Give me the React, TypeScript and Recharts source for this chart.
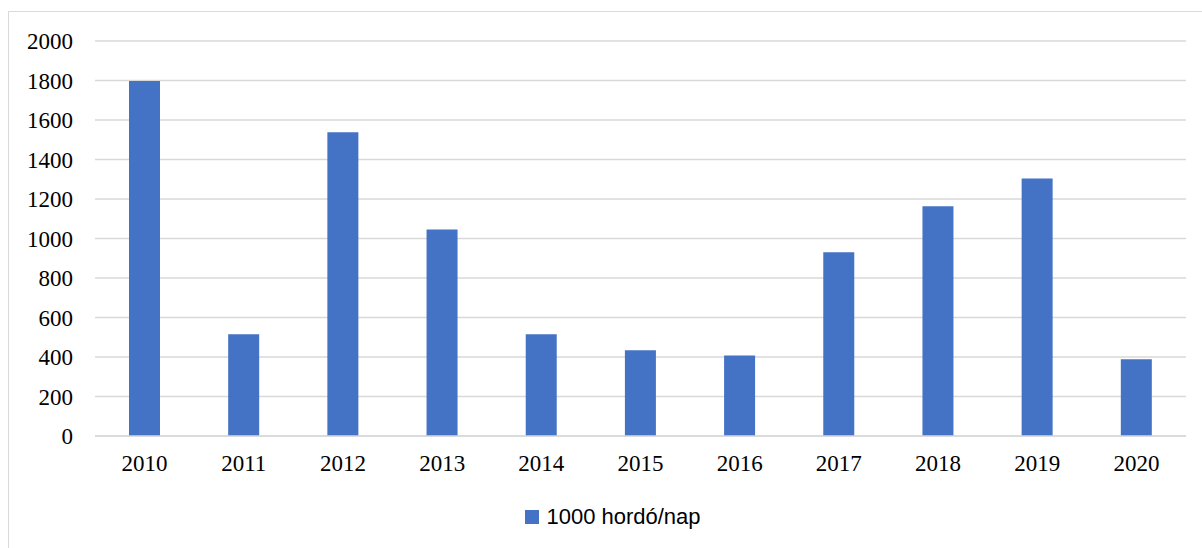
import { BarChart, Bar, XAxis, YAxis, CartesianGrid, Legend } from 'recharts';

const years = ['2010', '2011', '2012', '2013', '2014', '2015', '2016', '2017', '2018', '2019', '2020'];
const production = [1798, 515, 1538, 1046, 515, 434, 407, 931, 1163, 1304, 389];
const yTicks = [0, 200, 400, 600, 800, 1000, 1200, 1400, 1600, 1800, 2000];
const seriesName = '1000 hordó/nap';

const BAR_COLOR = '#4472C4';
const GRID_COLOR = '#d9d9d9';

const chartData = years.map((year, i) => ({
  year,
  value: production[i],
}));

function LegendContent() {
  return (
    <div style={{ display: 'flex', justifyContent: 'center', alignItems: 'center', height: 24, paddingLeft: 40 }}>
      <span style={{ display: 'inline-block', width: 14, height: 14, background: BAR_COLOR, marginRight: 7 }} />
      <span style={{ fontFamily: '"Liberation Sans", Arial, sans-serif', fontSize: 22, color: '#000' }}>
        {seriesName}
      </span>
    </div>
  );
}

export default function App() {
  return (
    <div style={{ position: 'fixed', left: 0, top: 0, width: 1202, height: 548, overflow: 'hidden', background: '#fff' }}>
      <div
        style={{
          position: 'absolute',
          left: 8,
          top: 11,
          width: 1220,
          height: 580,
          border: `1.5px solid ${GRID_COLOR}`,
        }}
      />
      <div style={{ position: 'absolute', left: 0, top: 0 }}>
        <BarChart
          width={1202}
          height={548}
          data={chartData}
          margin={{ top: 41, right: 16, left: 0, bottom: 19 }}
          barSize={31}
        >
          <CartesianGrid vertical={false} stroke={GRID_COLOR} strokeWidth={1.5} />
          <XAxis
            dataKey="year"
            axisLine={{ stroke: GRID_COLOR, strokeWidth: 1.5 }}
            tickLine={false}
            tickMargin={13}
            height={69}
            interval={0}
            tick={{ fontFamily: '"Liberation Serif", "Times New Roman", serif', fontSize: 23, fill: '#000' }}
          />
          <YAxis
            domain={[0, 2000]}
            ticks={yTicks}
            axisLine={false}
            tickLine={false}
            tickMargin={16}
            width={95}
            interval={0}
            tick={{ fontFamily: '"Liberation Serif", "Times New Roman", serif', fontSize: 23, fill: '#000' }}
          />
          <Legend verticalAlign="bottom" content={<LegendContent />} />
          <Bar dataKey="value" name={seriesName} fill={BAR_COLOR} isAnimationActive={false} />
        </BarChart>
      </div>
    </div>
  );
}
